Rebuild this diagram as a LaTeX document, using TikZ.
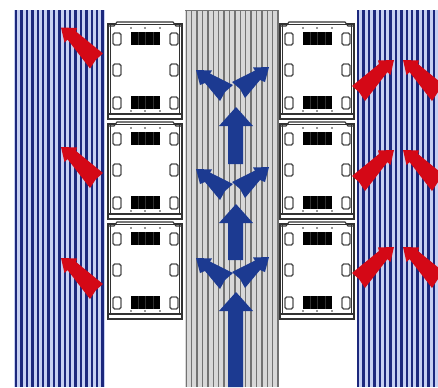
\documentclass[tikz,border=0pt]{standalone}
\usetikzlibrary{arrows.meta,positioning}
\definecolor{rNavy}{RGB}{28,40,125}
\definecolor{rPale}{RGB}{198,208,242}
\definecolor{rGrayBand}{RGB}{216,216,216}
\definecolor{rGrayLine}{RGB}{115,115,115}
\definecolor{rRed}{RGB}{212,8,22}
\definecolor{rBlue}{RGB}{28,58,145}
\definecolor{rFrame}{RGB}{50,50,50}

\begin{document}
\begin{tikzpicture}[
	x=0.25mm, y=-0.25mm,
	frameline/.style={draw=rFrame, line width=0.8pt},
	port/.style={draw=rFrame!85, fill=white, line width=1pt, rounded corners=1.2pt},
	fan/.style={fill=black, draw=none},
	hotarrow/.style={fill=rRed, draw=none},
	coldarrow/.style={fill=rBlue, draw=none},
	rack/.pic={
		% frame and caps
		\draw[frameline, fill=white] (1,3) -- (1,98) -- (75,98) -- (75,3) -- cycle;
		\draw[frameline, line width=0.5pt] (3.5,3) -- (3.5,98) (72.5,3) -- (72.5,98);
		\draw[frameline, fill=white] (1,5) -- (7,5) -- (10,1) -- (66,1) -- (69,5) -- (75,5);
		\draw[frameline, line width=0.5pt] (7,3) -- (69,3);
		\draw[frameline, fill=white] (1,93) -- (75,93) -- (75,98) -- (1,98) -- cycle;
		% ports
		\foreach \px in {6,63}
		\foreach \py in {12,43,76}
		\draw[port] (\px,\py) rectangle ++(8,12);
		\foreach \py in {11,75}
		\fill[fan] (24,\py) rectangle ++(29,13);
		\foreach \py in {11,75}
		\foreach \px in {31,38,46}
		\draw[rFrame, line width=0.2pt] (\px,\py) -- ++(0,13);
		\foreach \px in {24,38,53}
		\foreach \py in {7,90}
		\fill[rFrame] (\px,\py) circle (0.9);
	},
	hotflow/.pic={
		\fill[hotarrow] (0,0) -- (16,0.5) -- (15,4) -- (42,26) -- (35,32) -- (29,41) -- (6.5,12) -- (3.5,15) -- cycle;
	},
	coldflow/.pic={
		\fill[coldarrow] (0,0) -- (16,0.5) -- (14,3.5) -- (37,15) -- (29,22) -- (24,31) -- (9,13) -- (4,15) -- cycle;
	}
	]
	\clip (0,0) rectangle (438,387);
	\fill[white] (0,0) rectangle (438,387);

	% aisles
	\fill[rPale] (14,10) rectangle (105,387);
	\fill[rPale] (357,10) rectangle (438,387);
	\fill[rGrayBand] (185,10) rectangle (277,387);
	\foreach \i in {0,...,16}
	\fill[rNavy] ({15+5.4*\i},10) rectangle ++(2.4,377);
	\foreach \i in {0,...,15}
	\fill[rNavy] ({357+5.4*\i},10) rectangle ++(2.4,377);
	\foreach \i in {0,...,17}
	\fill[rGrayLine] ({185.5+5.4*\i},10) rectangle ++(1.5,377);
	\draw[rGrayLine, line width=0.4pt] (185,10) -- (277,10);

	% racks
	\foreach \ry in {21,121,221} {
		\pic at (107,\ry) {rack};
		\pic at (279,\ry) {rack};
	}

	% hot exhaust
	\foreach \ay/\by in {27.5/60,147/150,258/247} {
		\pic at (61,\ay) {hotflow};
		\pic at (403,\by) {hotflow};
		\pic[xscale=-1] at (394,\by) {hotflow};
	}

	% cold supply
	\foreach \ly/\ry in {70/67,169/167,258/257} {
		\pic at (196,\ly) {coldflow};
		\pic[xscale=-1] at (269,\ry) {coldflow};
	}
	\foreach \ty/\ey in {107/164,204/260,292/387}
	\fill[coldarrow] (236,\ty) -- (253,{\ty+19}) -- (243,{\ty+19}) -- (243,\ey) -- (228,\ey) -- (228,{\ty+19}) -- (219,{\ty+19}) -- cycle;
\end{tikzpicture}
\end{document}
